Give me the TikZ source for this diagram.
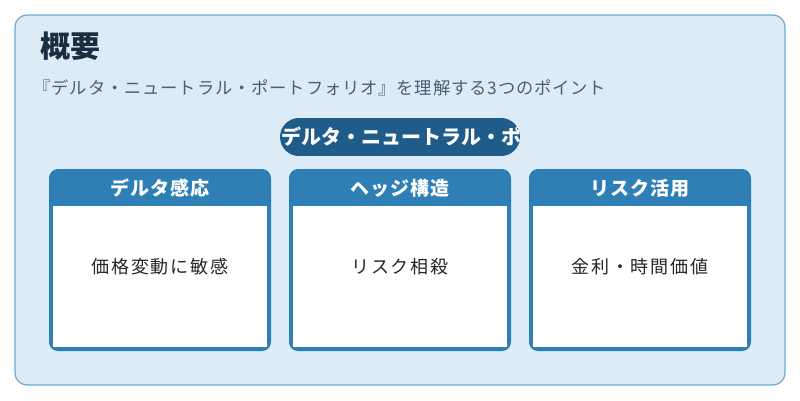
\documentclass[tikz,border=0pt]{standalone}
\usepackage{fontspec}
\setmainfont{Noto Sans CJK JP}
\usetikzlibrary{positioning}
\definecolor{bgblue}{HTML}{DCEBF6}
\definecolor{edgeblue}{HTML}{6AAAD4}
\definecolor{cardblue}{HTML}{2E7FB5}
\definecolor{pillblue}{HTML}{1F5C8A}
\definecolor{titlecol}{HTML}{1A2E40}
\definecolor{subcol}{HTML}{4A6070}
\tikzset{
  cardhead/.style={font=\fontsize{19}{21}\selectfont\bfseries\addfontfeature{LetterSpace=4}, text=white},
  cardbody/.style={font=\fontsize{18}{20}\selectfont\addfontfeature{LetterSpace=10}, text=black!85},
}
\begin{document}
\begin{tikzpicture}[x=1pt,y=-1pt]
  \useasboundingbox (0,0) rectangle (800,400);
  \draw[edgeblue, fill=bgblue, line width=1.2pt, rounded corners=12pt] (15,15) rectangle (785,385);
  \node[anchor=west, font=\fontsize{30}{32}\selectfont\bfseries, text=titlecol] (title) at (37,46) {概要};
  \node[anchor=west, font=\fontsize{17.3}{19}\selectfont\addfontfeature{LetterSpace=5}, text=subcol] (sub) at (30,88) {『デルタ・ニュートラル・ポートフォリオ』を理解する3つのポイント};
  % pill
  \begin{scope}
    \clip[rounded corners=19pt] (280,118) rectangle (520,156);
    \fill[pillblue] (280,118) rectangle (520,156);
    \node[anchor=west, font=\fontsize{20}{22}\selectfont\bfseries, text=white] (pill) at (278,137) {デルタ・ニュートラル・ポートフォリオ};
  \end{scope}
  % cards
  \foreach \x/\head/\body [count=\i] in {50/デルタ感応/価格変動に敏感, 290/ヘッジ構造/リスク相殺, 530/リスク活用/金利・時間価値}{
    \fill[cardblue, rounded corners=8pt] (\x,170) rectangle ++(220,180);
    \fill[white] (\x+3,206) rectangle (\x+217,347);
    \draw[cardblue, line width=2pt, rounded corners=8pt] (\x,170) rectangle ++(220,180);
    \node[cardhead] (head\i) at (\x+110,188) {\head};
    \node[cardbody] (body\i) at (\x+110,267) {\body};
  }
\end{tikzpicture}
\end{document}
